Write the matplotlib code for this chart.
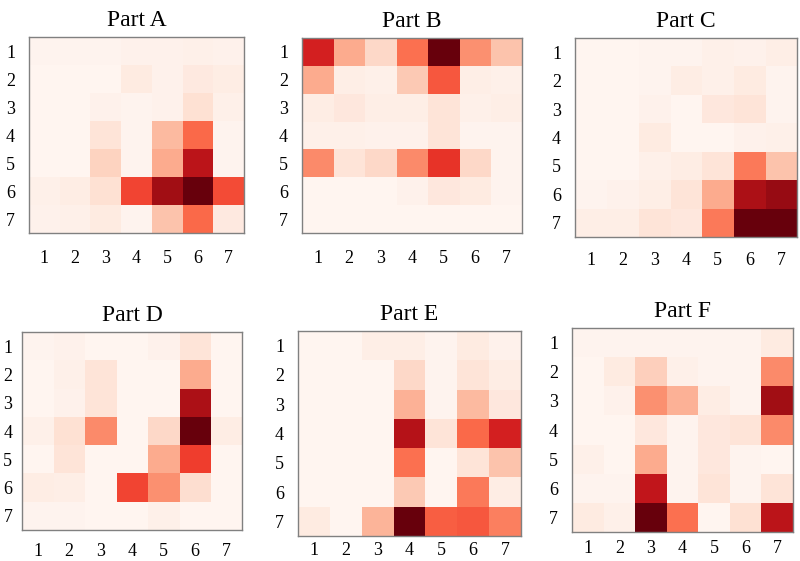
import numpy as np
import matplotlib.pyplot as plt

plt.rcParams['font.family'] = ['Liberation Serif', 'DejaVu Serif']

labels = [1, 2, 3, 4, 5, 6, 7]
titles = ['Part A', 'Part B', 'Part C', 'Part D', 'Part E', 'Part F']

part_a = [[0.01, 0.01, 0.01, 0.02, 0.02, 0.03, 0.02],
          [0.00, 0.00, 0.00, 0.06, 0.02, 0.07, 0.05],
          [0.00, 0.00, 0.02, 0.01, 0.02, 0.12, 0.03],
          [0.00, 0.00, 0.10, 0.01, 0.25, 0.50, 0.01],
          [0.00, 0.00, 0.17, 0.01, 0.30, 0.80, 0.01],
          [0.03, 0.05, 0.12, 0.60, 0.88, 1.00, 0.58],
          [0.02, 0.03, 0.06, 0.01, 0.22, 0.50, 0.07]]

part_b = [[0.72, 0.30, 0.15, 0.48, 1.00, 0.38, 0.22],
          [0.30, 0.04, 0.03, 0.20, 0.55, 0.04, 0.03],
          [0.05, 0.08, 0.04, 0.04, 0.10, 0.03, 0.04],
          [0.03, 0.03, 0.02, 0.02, 0.10, 0.01, 0.01],
          [0.40, 0.10, 0.15, 0.40, 0.65, 0.15, 0.01],
          [0.00, 0.00, 0.00, 0.02, 0.08, 0.06, 0.01],
          [0.00, 0.00, 0.00, 0.00, 0.00, 0.00, 0.00]]

part_c = [[0.00, 0.00, 0.01, 0.01, 0.03, 0.02, 0.04],
          [0.00, 0.00, 0.01, 0.05, 0.03, 0.06, 0.01],
          [0.00, 0.00, 0.02, 0.00, 0.08, 0.10, 0.01],
          [0.00, 0.00, 0.06, 0.00, 0.00, 0.02, 0.03],
          [0.00, 0.00, 0.03, 0.05, 0.10, 0.45, 0.22],
          [0.01, 0.02, 0.04, 0.10, 0.30, 0.85, 0.90],
          [0.04, 0.04, 0.10, 0.08, 0.45, 1.00, 1.00]]

part_d = [[0.01, 0.02, 0.00, 0.00, 0.02, 0.10, 0.00],
          [0.00, 0.03, 0.10, 0.00, 0.00, 0.30, 0.00],
          [0.00, 0.02, 0.10, 0.00, 0.00, 0.85, 0.00],
          [0.03, 0.12, 0.40, 0.00, 0.15, 1.00, 0.05],
          [0.00, 0.10, 0.00, 0.00, 0.30, 0.62, 0.00],
          [0.05, 0.04, 0.00, 0.60, 0.38, 0.13, 0.00],
          [0.01, 0.01, 0.00, 0.00, 0.03, 0.00, 0.00]]

part_e = [[0.00, 0.00, 0.04, 0.04, 0.01, 0.06, 0.02],
          [0.00, 0.00, 0.00, 0.15, 0.01, 0.10, 0.05],
          [0.00, 0.00, 0.00, 0.28, 0.01, 0.25, 0.08],
          [0.00, 0.00, 0.00, 0.82, 0.10, 0.50, 0.72],
          [0.00, 0.00, 0.00, 0.48, 0.00, 0.10, 0.22],
          [0.00, 0.00, 0.00, 0.20, 0.00, 0.45, 0.05],
          [0.06, 0.00, 0.27, 1.00, 0.53, 0.55, 0.43]]

part_f = [[0.01, 0.01, 0.01, 0.01, 0.01, 0.01, 0.06],
          [0.00, 0.06, 0.18, 0.03, 0.01, 0.01, 0.40],
          [0.00, 0.02, 0.38, 0.28, 0.05, 0.01, 0.88],
          [0.00, 0.00, 0.08, 0.01, 0.08, 0.10, 0.40],
          [0.03, 0.00, 0.30, 0.01, 0.08, 0.01, 0.00],
          [0.01, 0.01, 0.78, 0.01, 0.10, 0.01, 0.10],
          [0.06, 0.03, 1.00, 0.48, 0.00, 0.12, 0.80]]

parts = [part_a, part_b, part_c, part_d, part_e, part_f]

# axes boxes in pixels: left, top, right, bottom
W, H = 800, 561
boxes = [(29, 37, 244, 233), (302, 38, 522, 233), (575, 38, 797, 237),
         (22, 332, 242, 530), (298, 331, 521, 536), (572, 328, 793, 532)]
xpads = [12, 12, 11, 9, 4, 6]
ypads = [10, 10, 10, 7, 10, 10]

fig = plt.figure(figsize=(W / 100, H / 100), dpi=100)

for data, title, (l, t, r, b), xp, yp in zip(parts, titles, boxes, xpads, ypads):
    ax = fig.add_axes([l / W, 1 - b / H, (r - l) / W, (b - t) / H])
    ax.imshow(np.array(data), cmap='Reds', vmin=0, vmax=1, aspect='auto',
              interpolation='nearest')
    ax.set_xticks(range(7))
    ax.set_yticks(range(7))
    ax.set_xticklabels(labels, fontsize=13)
    ax.set_yticklabels(labels, fontsize=13)
    ax.tick_params(axis='x', length=0, pad=xp)
    ax.tick_params(axis='y', length=0, pad=yp)
    for s in ax.spines.values():
        s.set_color('#808080')
        s.set_linewidth(1)
    ax.set_title(title, fontsize=17, pad=8)

fig.savefig('out.png', dpi=100)
